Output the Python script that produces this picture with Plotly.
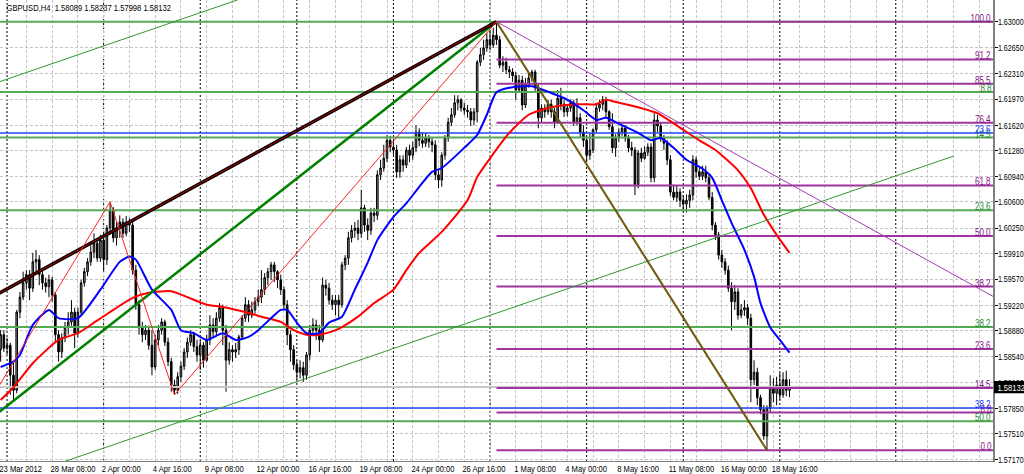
import plotly.graph_objects as go

# ------------------------------------------------------------------ data
bar_index = list(range(246))

opens = [
1.5863,1.5883,1.5865,1.5869,1.5829,1.5809,1.5913,1.5933,1.5952,1.5963,
1.5945,1.5980,1.5983,1.5963,1.5952,1.5947,1.5956,1.5936,1.5883,1.5860,
1.5879,1.5893,1.5900,1.5913,1.5885,1.5913,1.5952,1.5967,1.5980,1.5993,
1.6005,1.5985,1.6009,1.5983,1.6025,1.6049,1.6012,1.6025,1.6033,1.6018,
1.6033,1.6029,1.5969,1.5923,1.5892,1.5883,1.5889,1.5869,1.5840,1.5876,
1.5889,1.5900,1.5873,1.5847,1.5816,1.5809,1.5827,1.5841,1.5860,1.5873,
1.5883,1.5867,1.5856,1.5869,1.5849,1.5876,1.5896,1.5887,1.5905,1.5919,
1.5889,1.5849,1.5863,1.5860,1.5863,1.5880,1.5905,1.5923,1.5909,1.5916,
1.5927,1.5933,1.5943,1.5959,1.5967,1.5976,1.5967,1.5956,1.5943,1.5923,
1.5883,1.5863,1.5843,1.5833,1.5839,1.5829,1.5856,1.5889,1.5896,1.5889,
1.5876,1.5949,1.5945,1.5929,1.5923,1.5929,1.5923,1.5976,1.5985,1.6012,
1.6022,1.6025,1.6018,1.6052,1.6029,1.6022,1.6045,1.6042,1.6096,1.6105,
1.6118,1.6142,1.6133,1.6129,1.6100,1.6116,1.6109,1.6129,1.6122,1.6132,
1.6153,1.6142,1.6138,1.6145,1.6140,1.6136,1.6096,1.6089,1.6122,1.6145,
1.6166,1.6176,1.6192,1.6196,1.6185,1.6182,1.6180,1.6169,1.6180,1.6246,
1.6256,1.6265,1.6276,1.6269,1.6282,1.6276,1.6242,1.6246,1.6236,1.6233,
1.6228,1.6209,1.6222,1.6189,1.6216,1.6225,1.6233,1.6212,1.6172,1.6185,
1.6180,1.6190,1.6180,1.6166,1.6198,1.6190,1.6180,1.6185,1.6192,1.6166,
1.6172,1.6153,1.6142,1.6122,1.6129,1.6156,1.6185,1.6190,1.6196,1.6180,
1.6160,1.6132,1.6145,1.6153,1.6158,1.6145,1.6132,1.6129,1.6083,1.6125,
1.6118,1.6126,1.6133,1.6092,1.6169,1.6161,1.6145,1.6138,1.6116,1.6073,
1.6066,1.6073,1.6062,1.6057,1.6062,1.6069,1.6116,1.6100,1.6094,1.6100,
1.6092,1.6066,1.6029,1.6016,1.5989,1.5980,1.5969,1.5945,1.5927,1.5940,
1.5909,1.5916,1.5919,1.5905,1.5823,1.5833,1.5799,1.5783,1.5748,1.5785,
1.5812,1.5805,1.5816,1.5803,1.5823,1.58089]

highs = [
1.5889,1.5889,1.5879,1.5872,1.5847,1.5916,1.5940,1.5967,1.5969,1.5969,
1.5992,1.5996,1.5989,1.5969,1.5959,1.5963,1.5960,1.5940,1.5889,1.5885,
1.5900,1.5913,1.5929,1.5919,1.5919,1.5956,1.5972,1.5985,1.6002,1.6018,
1.6009,1.6016,1.6020,1.6029,1.6060,1.6053,1.6033,1.6042,1.6038,1.6041,
1.6038,1.6036,1.5976,1.5929,1.5900,1.5896,1.5895,1.5889,1.5883,1.5896,
1.5905,1.5903,1.5879,1.5852,1.5823,1.5833,1.5847,1.5865,1.5879,1.5889,
1.5887,1.5876,1.5876,1.5873,1.5883,1.5909,1.5905,1.5913,1.5925,1.5923,
1.5896,1.5873,1.5869,1.5872,1.5883,1.5909,1.5933,1.5929,1.5927,1.5933,
1.5943,1.5969,1.5965,1.5972,1.5980,1.5980,1.5969,1.5963,1.5947,1.5929,
1.5889,1.5869,1.5849,1.5849,1.5847,1.5860,1.5896,1.5905,1.5903,1.5896,
1.5959,1.5956,1.5952,1.5936,1.5936,1.5936,1.5980,1.5989,1.6020,1.6029,
1.6033,1.6036,1.6076,1.6056,1.6038,1.6052,1.6052,1.6102,1.6116,1.6136,
1.6149,1.6148,1.6142,1.6136,1.6122,1.6122,1.6133,1.6136,1.6140,1.6162,
1.6158,1.6153,1.6152,1.6149,1.6145,1.6142,1.6102,1.6126,1.6149,1.6172,
1.6185,1.6202,1.6202,1.6198,1.6192,1.6189,1.6185,1.6185,1.6249,1.6265,
1.6276,1.6285,1.6289,1.6292,1.6300,1.6281,1.6254,1.6252,1.6241,1.6238,
1.6233,1.6229,1.6228,1.6225,1.6233,1.6236,1.6236,1.6216,1.6190,1.6190,
1.6196,1.6196,1.6185,1.6209,1.6212,1.6196,1.6190,1.6196,1.6196,1.6198,
1.6178,1.6162,1.6145,1.6152,1.6158,1.6192,1.6196,1.6201,1.6200,1.6182,
1.6178,1.6150,1.6158,1.6162,1.6162,1.6149,1.6140,1.6133,1.6129,1.6132,
1.6134,1.6138,1.6138,1.6178,1.6176,1.6166,1.6149,1.6142,1.6122,1.6083,
1.6081,1.6078,1.6069,1.6070,1.6076,1.6122,1.6120,1.6105,1.6108,1.6108,
1.6096,1.6073,1.6033,1.6020,1.5996,1.5985,1.5975,1.5953,1.5949,1.5945,
1.5924,1.5929,1.5924,1.5911,1.5849,1.5839,1.5803,1.5789,1.5789,1.5829,
1.5825,1.5827,1.5832,1.5833,1.5835,1.58237]

lows = [
1.5847,1.5860,1.5856,1.5803,1.5796,1.5805,1.5905,1.5929,1.5943,1.5929,
1.5940,1.5967,1.5949,1.5943,1.5939,1.5933,1.5927,1.5873,1.5847,1.5852,
1.5873,1.5883,1.5895,1.5865,1.5879,1.5909,1.5947,1.5961,1.5975,1.5985,
1.5980,1.5980,1.5967,1.5976,1.6016,1.6006,1.6002,1.6012,1.6012,1.6014,
1.6020,1.5963,1.5916,1.5883,1.5873,1.5876,1.5863,1.5829,1.5836,1.5869,
1.5883,1.5868,1.5841,1.5807,1.5803,1.5804,1.5820,1.5836,1.5852,1.5868,
1.5860,1.5847,1.5836,1.5839,1.5847,1.5869,1.5879,1.5881,1.5900,1.5869,
1.5807,1.5843,1.5847,1.5852,1.5856,1.5876,1.5900,1.5900,1.5905,1.5911,
1.5921,1.5925,1.5936,1.5949,1.5956,1.5953,1.5945,1.5936,1.5916,1.5869,
1.5847,1.5836,1.5823,1.5825,1.5820,1.5823,1.5849,1.5883,1.5876,1.5860,
1.5873,1.5935,1.5923,1.5916,1.5909,1.5905,1.5919,1.5969,1.5976,1.6006,
1.6012,1.6009,1.6012,1.6020,1.6009,1.6016,1.6033,1.6036,1.6089,1.6100,
1.6113,1.6126,1.6122,1.6092,1.6092,1.6100,1.6105,1.6113,1.6116,1.6126,
1.6134,1.6132,1.6133,1.6132,1.6126,1.6089,1.6078,1.6080,1.6116,1.6140,
1.6161,1.6172,1.6182,1.6180,1.6176,1.6172,1.6161,1.6162,1.6166,1.6241,
1.6249,1.6260,1.6262,1.6265,1.6269,1.6238,1.6233,1.6230,1.6225,1.6220,
1.6196,1.6206,1.6182,1.6185,1.6212,1.6220,1.6206,1.6158,1.6166,1.6172,
1.6176,1.6172,1.6158,1.6164,1.6182,1.6173,1.6174,1.6180,1.6161,1.6162,
1.6146,1.6133,1.6113,1.6116,1.6125,1.6152,1.6180,1.6182,1.6172,1.6156,
1.6125,1.6120,1.6140,1.6148,1.6140,1.6126,1.6121,1.6069,1.6078,1.6113,
1.6116,1.6121,1.6086,1.6086,1.6153,1.6140,1.6129,1.6109,1.6068,1.6062,
1.6060,1.6053,1.6049,1.6046,1.6052,1.6062,1.6092,1.6089,1.6089,1.6086,
1.6062,1.6022,1.6009,1.5983,1.5972,1.5963,1.5940,1.5889,1.5916,1.5903,
1.5905,1.5908,1.5896,1.5793,1.5816,1.5789,1.5777,1.5743,1.5729,1.5780,
1.5793,1.5789,1.5796,1.5799,1.5801,1.57998]

closes = [
1.5883,1.5865,1.5869,1.5829,1.5809,1.5913,1.5933,1.5952,1.5963,1.5945,
1.5980,1.5983,1.5963,1.5952,1.5947,1.5956,1.5936,1.5883,1.5860,1.5879,
1.5893,1.5900,1.5913,1.5885,1.5913,1.5952,1.5967,1.5980,1.5993,1.6005,
1.5985,1.6009,1.5983,1.6025,1.6049,1.6012,1.6025,1.6033,1.6018,1.6033,
1.6029,1.5969,1.5923,1.5892,1.5883,1.5889,1.5869,1.5840,1.5876,1.5889,
1.5900,1.5873,1.5847,1.5816,1.5809,1.5827,1.5841,1.5860,1.5873,1.5883,
1.5867,1.5856,1.5869,1.5849,1.5876,1.5896,1.5887,1.5905,1.5919,1.5889,
1.5849,1.5863,1.5860,1.5863,1.5880,1.5905,1.5923,1.5909,1.5916,1.5927,
1.5933,1.5943,1.5959,1.5967,1.5976,1.5967,1.5956,1.5943,1.5923,1.5883,
1.5863,1.5843,1.5833,1.5839,1.5829,1.5856,1.5889,1.5896,1.5889,1.5876,
1.5949,1.5945,1.5929,1.5923,1.5929,1.5923,1.5976,1.5985,1.6012,1.6022,
1.6025,1.6018,1.6052,1.6029,1.6022,1.6045,1.6042,1.6096,1.6105,1.6118,
1.6142,1.6133,1.6129,1.6100,1.6116,1.6109,1.6129,1.6122,1.6132,1.6153,
1.6142,1.6138,1.6145,1.6140,1.6136,1.6096,1.6089,1.6122,1.6145,1.6166,
1.6176,1.6192,1.6196,1.6185,1.6182,1.6180,1.6169,1.6180,1.6246,1.6256,
1.6265,1.6276,1.6269,1.6282,1.6276,1.6242,1.6246,1.6236,1.6233,1.6228,
1.6209,1.6222,1.6189,1.6216,1.6225,1.6233,1.6212,1.6172,1.6185,1.6180,
1.6190,1.6180,1.6166,1.6198,1.6190,1.6180,1.6185,1.6192,1.6166,1.6172,
1.6153,1.6142,1.6122,1.6129,1.6156,1.6185,1.6190,1.6196,1.6180,1.6160,
1.6132,1.6145,1.6153,1.6158,1.6145,1.6132,1.6129,1.6083,1.6125,1.6118,
1.6126,1.6133,1.6092,1.6169,1.6161,1.6145,1.6138,1.6116,1.6073,1.6066,
1.6073,1.6062,1.6057,1.6062,1.6069,1.6116,1.6100,1.6094,1.6100,1.6092,
1.6066,1.6029,1.6016,1.5989,1.5980,1.5969,1.5945,1.5927,1.5940,1.5909,
1.5916,1.5919,1.5905,1.5823,1.5833,1.5799,1.5783,1.5748,1.5785,1.5812,
1.5805,1.5816,1.5803,1.5823,1.5809,1.58132]

ma_fast_bars = [0,4,6,10,15,18,24,31,37,40,42,47,53,56,60,64,69,73,77,80,84,87,89,92,95,99,102,106,110,114,
                117,122,126,130,134,137,144,148,151,154,158,165,171,176,181,185,188,192,198,202,205,209,213,218,221,
                224,227,231,234,236,239,242,245]
ma_fast_vals = [1.5840,1.5847,1.5856,1.5896,1.5916,1.5905,1.5905,1.5943,1.5980,1.5987,1.5983,1.5943,1.5916,1.5889,
                1.5885,1.5876,1.5885,1.5876,1.5880,1.5889,1.5905,1.5916,1.5916,1.5899,1.5885,1.5885,1.5899,1.5907,
                1.5943,1.5979,1.6009,1.6040,1.6058,1.6080,1.6100,1.6105,1.6132,1.6149,1.6176,1.6206,1.6212,1.6214,
                1.6205,1.6196,1.6182,1.6169,1.6172,1.6164,1.6152,1.6142,1.6145,1.6132,1.6116,1.6104,1.6092,1.6062,
                1.6032,1.5996,1.5960,1.5925,1.5893,1.5876,1.5859]

ma_slow_bars = [0,4,10,18,24,29,35,41,46,53,58,64,69,77,81,87,91,95,99,104,106,111,116,122,126,130,137,145,148,152,
                158,164,171,179,185,188,191,198,204,212,217,222,229,233,237,241,245]
ma_slow_vals = [1.5796,1.5813,1.5845,1.5876,1.5885,1.5899,1.5916,1.5932,1.5939,1.5941,1.5933,1.5923,1.5920,1.5912,
                1.5907,1.5900,1.5889,1.5883,1.5883,1.5889,1.5893,1.5907,1.5925,1.5943,1.5969,1.5992,1.6020,1.6062,
                1.6093,1.6118,1.6152,1.6176,1.6186,1.6190,1.6190,1.6196,1.6193,1.6186,1.6178,1.6156,1.6142,1.6129,
                1.6102,1.6078,1.6043,1.6016,1.5992]

time_label_bars = [0,16,32,48,64,80,96,112,128,144,160,176,192,208,224,240]
time_labels = ["23 Mar 2012","28 Mar 08:00","2 Apr 00:00","4 Apr 16:00","9 Apr 08:00","12 Apr 00:00",
               "16 Apr 16:00","19 Apr 08:00","24 Apr 00:00","26 Apr 16:00","1 May 08:00","4 May 00:00",
               "8 May 16:00","11 May 08:00","16 May 00:00","18 May 16:00"]
week_separator_bars = [2,32,62,92,122,152,182,212,242,278]

price_ticks = [1.63000,1.62650,1.62310,1.61970,1.61620,1.61280,1.60940,1.60600,1.60250,
               1.59910,1.59570,1.59220,1.58880,1.58540,1.58190,1.57850,1.57510,1.57170]
price_tick_labels = ["1.63000","1.62650","1.62310","1.61970","1.61620","1.61280","1.60940","1.60600","1.60250",
                     "1.59910","1.59570","1.59220","1.58880","1.58540","1.58190","1.57850","1.57510","1.57170"]

symbol = "GBPUSD,H4"
last_bar_text = "1.58089 1.58237 1.57998 1.58132"
last_bid = 1.58132

# Fibonacci retracements
fib_purple_levels = [0.0,8.8,14.5,23.6,38.2,50.0,61.8,76.4,85.5,91.2,100.0]
fib_purple_start_bar = 154
fib_purple_high = 1.6300
fib_purple_low = 1.5729
fib_green_levels = [0.0,8.8,14.5,23.6,38.2,50.0]
fib_green_zero = 1.6300
fib_green_hundred = 1.5235
fib_blue_levels = [23.6,38.2]
fib_blue_zero = 1.6744
fib_blue_hundred = 1.4234

# trend lines (bar, price anchors)
trend_black_bars = [-1,154];  trend_black_prices = [1.5937,1.6300]
trend_green_bars = [-1,154];  trend_green_prices = [1.5778,1.6300]
zigzag_bars = [-1,34,54,154,238]
zigzag_prices = [1.5811,1.6060,1.5803,1.6300,1.5729]
down_line_bars = [154,238];   down_line_prices = [1.6300,1.5729]
purple_ray_bars = [154,312];  purple_ray_prices = [1.6300,1.5925]
channel_low_bars = [9,296];   channel_low_prices = [1.5698,1.6121]
channel_up_bars = [-1,100];   channel_up_prices = [1.6219,1.6368]

# ------------------------------------------------------------------ figure
FONT = "Liberation Sans, Arial, sans-serif"
FS = 9.5
X_LEFT, X_RIGHT = -0.19, 308.2
X_FAR = 330
PLOT_W = 993.0

fig = go.Figure()

def hline(price, color, width, x0=-5, x1=X_FAR):
    fig.add_trace(go.Scatter(x=[x0, x1], y=[price, price], mode="lines",
                             line=dict(color=color, width=width), hoverinfo="skip", showlegend=False))

def seg(xs, ys, color, width):
    fig.add_trace(go.Scatter(x=xs, y=ys, mode="lines", line=dict(color=color, width=width),
                             hoverinfo="skip", showlegend=False))

# bid line
hline(last_bid, "#c8c8c8", 2)

fig.add_trace(go.Candlestick(
    x=bar_index, open=opens, high=highs, low=lows, close=closes,
    increasing=dict(line=dict(color="#000000", width=1), fillcolor="#8a8a8a"),
    decreasing=dict(line=dict(color="#000000", width=1), fillcolor="#000000"),
    whiskerwidth=0, hoverinfo="skip", showlegend=False))

annotations = []

def fib_label(text, price, color):
    annotations.append(dict(xref="paper", yref="y", x=993.5 / PLOT_W, y=price, text=text, showarrow=False,
                            xanchor="right", yanchor="bottom", yshift=-3, borderpad=0,
                            font=dict(family=FONT, size=FS + 0.5, color=color)))

GREEN_FIB = "#55aa55"
PURPLE = "#a034a0"
BLUE_FIB = "#2244ff"

for lv in fib_green_levels:
    p = fib_green_zero - lv / 100 * (fib_green_zero - fib_green_hundred)
    hline(p, GREEN_FIB, 2)
    if lv > 0:
        fib_label(f"{lv:.1f}", p, "#1f8a1f")

for lv in fib_blue_levels:
    p = fib_blue_zero - lv / 100 * (fib_blue_zero - fib_blue_hundred)
    hline(p, BLUE_FIB, 1.5)
    fib_label(f"{lv:.1f}", p, "#1133ff")

for lv in fib_purple_levels:
    p = fib_purple_low + lv / 100 * (fib_purple_high - fib_purple_low)
    hline(p, PURPLE, 2, x0=fib_purple_start_bar)
    fib_label(f"{lv:.1f}", p, "#861386")

# moving averages
fig.add_trace(go.Scatter(x=ma_slow_bars, y=ma_slow_vals, mode="lines",
                         line=dict(color="#ff0000", width=2, shape="spline", smoothing=0.6),
                         hoverinfo="skip", showlegend=False))
fig.add_trace(go.Scatter(x=ma_fast_bars, y=ma_fast_vals, mode="lines",
                         line=dict(color="#0000ff", width=2, shape="spline", smoothing=0.6),
                         hoverinfo="skip", showlegend=False))

# trend lines
seg(channel_low_bars, channel_low_prices, "#2f9a2f", 1)
seg(channel_up_bars, channel_up_prices, "#2f9a2f", 1)
seg(purple_ray_bars, purple_ray_prices, "#a040b0", 1)
seg(trend_green_bars, trend_green_prices, "#008000", 2.5)
seg(trend_black_bars, trend_black_prices, "#000000", 3.5)
seg(trend_black_bars, trend_black_prices, "#b00000", 1)
seg(down_line_bars, down_line_prices, "#008000", 2)
seg(zigzag_bars, zigzag_prices, "#ff2020", 1)

# separators
shapes = []
for b in week_separator_bars:
    shapes.append(dict(type="line", xref="x", yref="paper", x0=b, x1=b, y0=0, y1=1,
                       line=dict(color="#000000", width=1, dash="2px,2px"), layer="below"))

# current price box on the price scale
shapes.append(dict(type="rect", xref="paper", yref="y", x0=994 / PLOT_W, x1=1.04,
                   y0=last_bid - 0.00082, y1=last_bid + 0.00082,
                   fillcolor="#000000", line=dict(width=0), layer="above"))

# time labels
for b, t in zip(time_label_bars, time_labels):
    annotations.append(dict(xref="x", yref="paper", x=b, y=0, text=t, showarrow=False,
                            xanchor="left", yanchor="top", xshift=-8, yshift=-1, borderpad=0,
                            font=dict(family=FONT, size=FS, color="#000000")))

# header
annotations.append(dict(xref="paper", yref="paper", x=0, y=1, text=symbol + "  " + last_bar_text,
                        showarrow=False, xanchor="left", yanchor="top", xshift=-15, yshift=-1, borderpad=0,
                        font=dict(family=FONT, size=FS, color="#000000")))
# current price text
annotations.append(dict(xref="paper", yref="y", x=993.0 / PLOT_W, y=last_bid, text=f"{last_bid:.5f}",
                        showarrow=False, xanchor="left", yanchor="middle", borderpad=0,
                        font=dict(family=FONT, size=FS, color="#ffffff")))

fig.update_layout(
    width=1024, height=474,
    margin=dict(l=0, r=31, t=0, b=13, autoexpand=False),
    paper_bgcolor="#ffffff", plot_bgcolor="#ffffff",
    showlegend=False,
    shapes=shapes, annotations=annotations,
    xaxis=dict(range=[X_LEFT, X_RIGHT], rangeslider=dict(visible=False),
               tickvals=list(range(0, 312, 8)), ticktext=[""] * 39,
               showgrid=True, gridcolor="#c4c4c4", griddash="3px,2px", gridwidth=1,
               zeroline=False, showline=True, linecolor="#808080", linewidth=1,
               ticks="", fixedrange=True, automargin=False),
    yaxis=dict(range=[1.57147, 1.63289], side="right",
               tickvals=price_ticks, ticktext=price_tick_labels,
               showgrid=True, gridcolor="#c4c4c4", griddash="3px,2px", gridwidth=1,
               zeroline=False, showline=True, linecolor="#808080", linewidth=2,
               ticks="outside", ticklen=3, tickcolor="#000000", automargin=False,
               tickfont=dict(family=FONT, size=FS, color="#000000"), fixedrange=True),
)

# condense every text horizontally (the reference uses a narrow screen font)
post = """
document.body.style.margin='0';document.body.style.overflow='hidden';
var gd=document.getElementById('{plot_id}');
gd.querySelectorAll('text').forEach(function(t){
  var w=t.getComputedTextLength();
  if(!(w>0)) return;
  var onScale = t.closest('.ytick') !== null;
  var f = onScale ? 0.75 : 0.8;
  t.setAttribute('textLength',(w*f).toFixed(2));
  t.setAttribute('lengthAdjust','spacingAndGlyphs');
  if(onScale){ t.setAttribute('x', (parseFloat(t.getAttribute('x')||'0')-2).toFixed(2)); }
});
"""

fig.write_html("out.html", config={"displayModeBar": False, "staticPlot": True}, post_script=post)
